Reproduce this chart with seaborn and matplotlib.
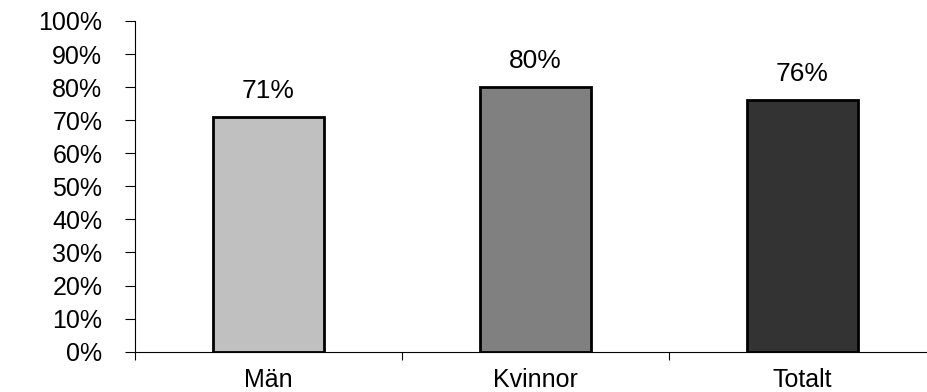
import matplotlib
matplotlib.use("Agg")
import matplotlib.pyplot as plt
import seaborn as sns
import pandas as pd
from matplotlib.ticker import PercentFormatter

# Andel per grupp (procent)
categories = ["Män", "Kvinnor", "Totalt"]
shares = [71, 80, 76]
bar_colors = ["#C0C0C0", "#808080", "#333333"]
y_ticks = list(range(0, 101, 10))

sns.set_style("white")
plt.rcParams["font.family"] = ["Liberation Sans", "DejaVu Sans"]
plt.rcParams["text.color"] = "black"
plt.rcParams["xtick.color"] = "black"
plt.rcParams["ytick.color"] = "black"

fig = plt.figure(figsize=(9.27, 3.92), dpi=100)
ax = fig.add_axes([135 / 927, 40.3 / 392, 801 / 927, 330.7 / 392])

df = pd.DataFrame({"grupp": categories, "andel": shares})
sns.barplot(data=df, x="grupp", y="andel", hue="grupp", palette=bar_colors,
            legend=False, width=0.415, edgecolor="black", linewidth=2,
            saturation=1, ax=ax)

# Värdeetiketter ovanför staplarna
for i, v in enumerate(shares):
    ax.annotate(f"{v}%", (i, v), xytext=(0, 10), textcoords="offset points",
                ha="center", va="bottom", fontsize=19, color="black")

ax.set_xlim(-0.5, 2.5)
ax.set_ylim(0, 100)
ax.set_xlabel("")
ax.set_ylabel("")

ax.set_yticks(y_ticks)
ax.yaxis.set_major_formatter(PercentFormatter(xmax=100, decimals=0))
ax.tick_params(axis="y", left=True, length=7.5, width=0.8, pad=16,
               labelsize=18, direction="out", color="black", labelcolor="black")

ax.set_xticks(range(len(categories)))
ax.set_xticklabels(categories)
ax.set_xticks([-0.5, 0.5, 1.5, 2.5], minor=True)
ax.tick_params(axis="x", which="major", bottom=False, length=0, pad=12,
               labelsize=18, labelcolor="black")
ax.tick_params(axis="x", which="minor", bottom=True, length=6, width=0.8,
               direction="out", color="black")

for side in ("top", "right"):
    ax.spines[side].set_visible(False)
for side in ("left", "bottom"):
    ax.spines[side].set_color("black")
    ax.spines[side].set_linewidth(0.8)

fig.savefig("out.png", dpi=100)
